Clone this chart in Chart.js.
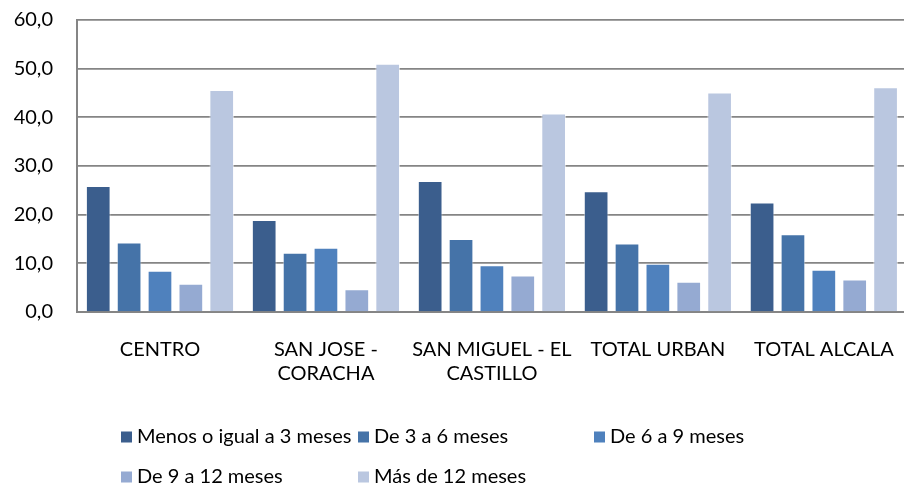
<!DOCTYPE html>
<html>
<head>
<meta charset="utf-8">
<script src="https://cdn.jsdelivr.net/npm/chart.js@4"></script>
<style>
  html, body { margin: 0; padding: 0; background: #fff; overflow: hidden; }
  #wrap { position: relative; width: 920px; height: 486px; }
</style>
</head>
<body>
<div id="wrap"><canvas id="myChart"></canvas></div>
<script>
// Data
const categories = ['CENTRO', ['SAN JOSE -', 'CORACHA'], ['SAN MIGUEL - EL', 'CASTILLO'], 'TOTAL URBAN', 'TOTAL ALCALA'];
const seriesNames = ['Menos o igual a 3 meses', 'De 3 a 6 meses', 'De 6 a 9 meses', 'De 9 a 12 meses', 'Más de 12 meses'];
const menos3 = [25.9, 18.9, 26.9, 24.8, 22.5];
const de3a6 = [14.3, 12.2, 15.0, 14.1, 16.0];
const de6a9 = [8.5, 13.2, 9.6, 9.9, 8.7];
const de9a12 = [5.8, 4.7, 7.5, 6.2, 6.7];
const mas12 = [45.6, 51.0, 40.8, 45.1, 46.2];
const yTickLabels = ['0,0', '10,0', '20,0', '30,0', '40,0', '50,0', '60,0'];

const colors = ['#3B5E8D', '#4573A8', '#4F81BD', '#95AAD2', '#BAC7E0'];
const series = [menos3, de3a6, de6a9, de9a12, mas12];

Chart.defaults.font.family = 'Lato, "Liberation Sans", sans-serif';
Chart.defaults.font.size = 20;
Chart.defaults.color = '#000';

// legend laid out in fixed columns, like the spreadsheet one
const gridLegend = {
  id: 'gridLegend',
  afterDraw(chart) {
    const ctx = chart.ctx;
    const cols = [121, 358, 594];
    const rows = [437, 477];
    ctx.save();
    ctx.font = '20px Lato, "Liberation Sans", sans-serif';
    ctx.textBaseline = 'middle';
    ctx.textAlign = 'left';
    chart.data.datasets.forEach(function(ds, i) {
      const x = cols[i % 3];
      const y = rows[Math.floor(i / 3)];
      ctx.fillStyle = ds.backgroundColor;
      ctx.fillRect(x, y - 5.5, 11, 11);
      ctx.fillStyle = '#000';
      ctx.fillText(ds.label, x + 16, y);
    });
    ctx.restore();
  }
};

const ctx = document.getElementById('myChart').getContext('2d');
new Chart(ctx, {
  type: 'bar',
  data: {
    labels: categories,
    datasets: series.map(function(vals, i) {
      return {
        label: seriesNames[i],
        data: vals,
        backgroundColor: colors[i],
        borderColor: 'rgba(255,255,255,0.55)',
        borderWidth: 1,
        categoryPercentage: 0.93,
        barPercentage: 0.8
      };
    })
  },
  options: {
    responsive: true,
    maintainAspectRatio: false,
    animation: false,
    layout: { padding: { top: 20, right: 3, bottom: 0, left: 0 } },
    plugins: {
      legend: { display: false },
      tooltip: { enabled: false }
    },
    scales: {
      x: {
        grid: { display: false, drawTicks: false },
        border: { display: true, color: '#858585', width: 2 },
        ticks: { padding: 26, maxRotation: 0, autoSkip: false },
        afterFit: function(scale) { scale.height = 174; }
      },
      y: {
        min: 0,
        max: 60,
        grid: { color: '#858585', lineWidth: 1.7, drawTicks: false },
        border: { display: true, color: '#858585', width: 2 },
        ticks: {
          stepSize: 10,
          padding: 24,
          callback: function(value, index) { return yTickLabels[index]; }
        },
        afterFit: function(scale) {
          scale.width = 77;
          scale.paddingTop = 0;
          scale.paddingBottom = 0;
        }
      }
    }
  },
  plugins: [gridLegend]
});
</script>
</body>
</html>
